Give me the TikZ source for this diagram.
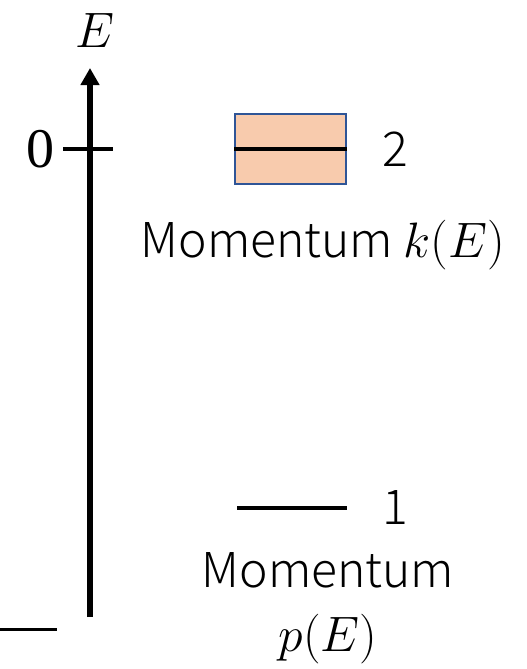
\documentclass[tikz,border=0pt]{standalone}
\usepackage{fontspec}
\setmainfont{Noto Sans CJK JP}[UprightFont=* Light]
\newfontfamily\serifnum{Liberation Serif}
\usepackage{tikz}
\usetikzlibrary{arrows.meta,positioning}
\definecolor{bandfill}{HTML}{F8CBAD}
\definecolor{bandedge}{HTML}{2F5597}

\begin{document}
\begin{tikzpicture}[x=0.5pt, y=-0.5pt,
  lbl/.style={font=\fontsize{24}{30}\selectfont, inner sep=0pt, align=center},
  lvl/.style={line width=2pt},
  axisarr/.style={-{Triangle[length=8.5pt, width=9pt]}, line width=3pt}]
\useasboundingbox (0,0) rectangle (526,669);

% energy axis
\coordinate (axbot) at (90,617);
\coordinate (axtop) at (90,68);
\draw[axisarr] (axbot) -- (axtop);
\node[font=\fontsize{28}{32}\selectfont, inner sep=0pt] (elabel) at (95,30) {$E$};

% zero tick
\coordinate (tickl) at (63,149);
\coordinate (tickr) at (113,149);
\draw[lvl] (tickl) -- (tickr);
\node[font=\fontsize{28}{32}\selectfont\serifnum, inner sep=0pt] (zero) at (40,149) {0};

% band 2
\node[draw=bandedge, line width=1pt, fill=bandfill, minimum width=55.5pt, minimum height=35pt, inner sep=0pt] (band) at (290.5,149) {};
\draw[lvl] (band.west) -- (band.east);
\node[lbl] (two) at (395,149) {2};
\node[lbl] (kmom) at (323,245) {Momentum {\fontsize{26}{30}\selectfont$k(E)$}};

% level 1
\coordinate (lvll) at (237,508);
\coordinate (lvlr) at (347,508);
\draw[lvl] (lvll) -- (lvlr);
\node[lbl] (one) at (395,508) {1};
\node[lbl] (pmom) at (328,608) {Momentum\\[2pt]{\fontsize{26}{30}\selectfont$p(E)$}};

% lower edge
\coordinate (lowl) at (0,629);
\coordinate (lowr) at (57,629);
\draw[line width=1.5pt] (lowl) -- (lowr);
\end{tikzpicture}
\end{document}
